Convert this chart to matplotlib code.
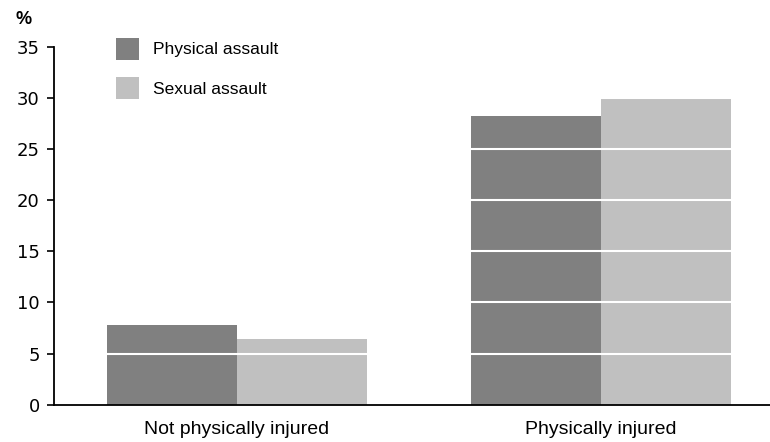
import matplotlib.pyplot as plt
import numpy as np

categories = ['Not physically injured', 'Physically injured']
physical = [7.8, 28.2]
sexual = [6.4, 30.0]
series_names = ['Physical assault', 'Sexual assault']
yticks = [0, 5, 10, 15, 20, 25, 30, 35]

plt.rcParams['font.family'] = ['Liberation Sans', 'DejaVu Sans']

fig = plt.figure(figsize=(7.7, 4.42), dpi=100)
ax = fig.add_axes([0.0695, 0.0844, 0.9305, 0.8093])

x = np.arange(len(categories))
w = 0.357
ax.bar(x - w / 2, physical, w, color='#808080', label=series_names[0], zorder=1)
ax.bar(x + w / 2, sexual, w, color='#c0c0c0', label=series_names[1], zorder=1)

# white gridlines over the bars
for t in yticks[1:-1]:
    ax.axhline(t, color='white', lw=1.5, zorder=2)

ax.set_xlim(-0.504, 1.464)
ax.set_ylim(0, 35)
ax.set_yticks(yticks)
ax.set_yticklabels([str(t) for t in yticks], family='DejaVu Sans', fontsize=13)
ax.set_xticks(x)
ax.set_xticklabels(categories, fontsize=14)
ax.tick_params(axis='y', length=5, width=1.2, pad=5)
ax.tick_params(axis='x', length=0, pad=12)
ax.spines['top'].set_visible(False)
ax.spines['right'].set_visible(False)
ax.spines['left'].set_linewidth(1.3)
ax.spines['bottom'].set_linewidth(1.3)

fig.text(0.02, 0.957, '%', fontsize=13, fontweight='bold', va='center')

ax.legend(loc='upper left', bbox_to_anchor=(0.066, 1.07), frameon=False,
          fontsize=12.5, handlelength=1.32, handleheight=1.6,
          handletextpad=0.8, labelspacing=0.97)

fig.savefig('out.png', dpi=100)
